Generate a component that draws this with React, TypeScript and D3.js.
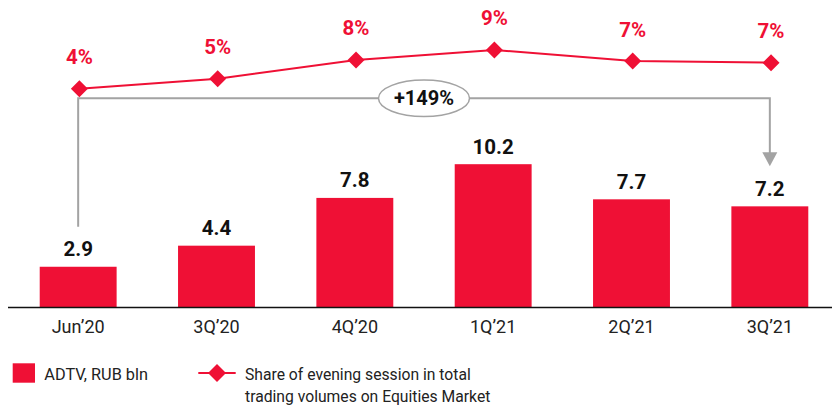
import React from "react";
import * as d3 from "d3";

const categories = ["Jun’20", "3Q’20", "4Q’20", "1Q’21", "2Q’21", "3Q’21"];
const adtvValues = [2.9, 4.4, 7.8, 10.2, 7.7, 7.2];
const adtvLabels = ["2.9", "4.4", "7.8", "10.2", "7.7", "7.2"];
const shareValues = [4.0, 5.25, 7.6, 8.85, 7.45, 7.25];
const shareLabels = ["4%", "5%", "8%", "9%", "7%", "7%"];
const growthLabel = "+149%";
const legendBar = "ADTV, RUB bln";
const legendLine = ["Share of evening session in total", "trading volumes on Equities Market"];

const RED = "#EF1035";
const GRAY = "#A3A3A3";
const FONT = "Roboto, 'Noto Sans', sans-serif";

export default function App() {
  const W = 832;
  const H = 406;
  const x = d3.scaleBand<string>().domain(categories).range([9, 839]).paddingInner(0.444).paddingOuter(0.222);
  const yBar = d3.scaleLinear().domain([0, 10]).range([307.5, 167]);
  const yLine = d3.scaleLinear().domain([0, 10]).range([120.7, 40.7]);
  const cx = (c: string) => (x(c) as number) + x.bandwidth() / 2;

  const linePath = d3
    .line<number>()
    .x((_, i) => cx(categories[i]) + 1.2)
    .y((d) => yLine(d))(shareValues) as string;

  const diamond = (px: number, py: number, r: number) =>
    `M${px},${py - r}L${px + r},${py}L${px},${py + r}L${px - r},${py}Z`;

  const x0 = cx(categories[0]);
  const x5 = cx(categories[categories.length - 1]);
  const bracketY = 98.3;
  const leftBottom = yBar(adtvValues[0]) - 40;
  const arrowTip = yBar(adtvValues[adtvValues.length - 1]) - 40;
  const midX = (x0 + x5) / 2;

  return (
    <svg width={W} height={H} style={{ position: "absolute", left: 0, top: 0 }} fontFamily={FONT}>
      <rect width={W} height={H} fill="#fff" />
      {/* bars */}
      {categories.map((c, i) => (
        <rect
          key={c}
          x={x(c)}
          y={yBar(adtvValues[i])}
          width={x.bandwidth()}
          height={yBar(0) - yBar(adtvValues[i])}
          fill={RED}
        />
      ))}
      {/* axis baseline */}
      <line x1={8} x2={832} y1={yBar(0)} y2={yBar(0)} stroke="#111" strokeWidth={1.5} />
      {/* value labels */}
      {categories.map((c, i) => (
        <text
          key={c + "v"}
          x={cx(c)}
          y={yBar(adtvValues[i]) - 10.5}
          textAnchor="middle"
          fontSize={20.5}
          fontWeight={700}
          fill="#111"
        >
          {adtvLabels[i]}
        </text>
      ))}
      {/* category labels */}
      {categories.map((c) => (
        <text key={c + "c"} x={cx(c)} y={333.3} textAnchor="middle" fontSize={18} fill="#222">
          {c}
        </text>
      ))}
      {/* bracket annotation */}
      <path
        d={`M${x0},${leftBottom}V${bracketY}H${x5}V${arrowTip - 12}`}
        fill="none"
        stroke={GRAY}
        strokeWidth={2}
      />
      <path d={`M${x5 - 7.5},${arrowTip - 14}L${x5 + 7.5},${arrowTip - 14}L${x5},${arrowTip}Z`} fill={GRAY} />
      <ellipse cx={midX} cy={bracketY} rx={45.5} ry={18.3} fill="#fff" stroke={GRAY} strokeWidth={1.5} />
      <text x={midX} y={bracketY + 7} textAnchor="middle" fontSize={20} fontWeight={700} fill="#111">
        {growthLabel}
      </text>
      {/* line series */}
      <path d={linePath} fill="none" stroke={RED} strokeWidth={2} />
      {shareValues.map((v, i) => (
        <path key={"d" + i} d={diamond(cx(categories[i]) + 1.2, yLine(v), 8.5)} fill={RED} />
      ))}
      {shareValues.map((v, i) => (
        <text
          key={"p" + i}
          x={cx(categories[i]) + 1.2}
          y={yLine(v) - 24.5}
          textAnchor="middle"
          fontSize={20.5}
          fontWeight={700}
          fill={RED}
        >
          {shareLabels[i]}
        </text>
      ))}
      {/* legend */}
      <rect x={12.7} y={363.3} width={22.3} height={19.4} fill={RED} />
      <text x={44.3} y={380} fontSize={16.3} fill="#222">
        {legendBar}
      </text>
      <line x1={198.3} x2={235.7} y1={373} y2={373} stroke={RED} strokeWidth={2} />
      <path d={diamond(217, 373, 9)} fill={RED} />
      {legendLine.map((t, i) => (
        <text key={"l" + i} x={245} y={380 + i * 22} fontSize={15.7} fill="#222">
          {t}
        </text>
      ))}
    </svg>
  );
}
